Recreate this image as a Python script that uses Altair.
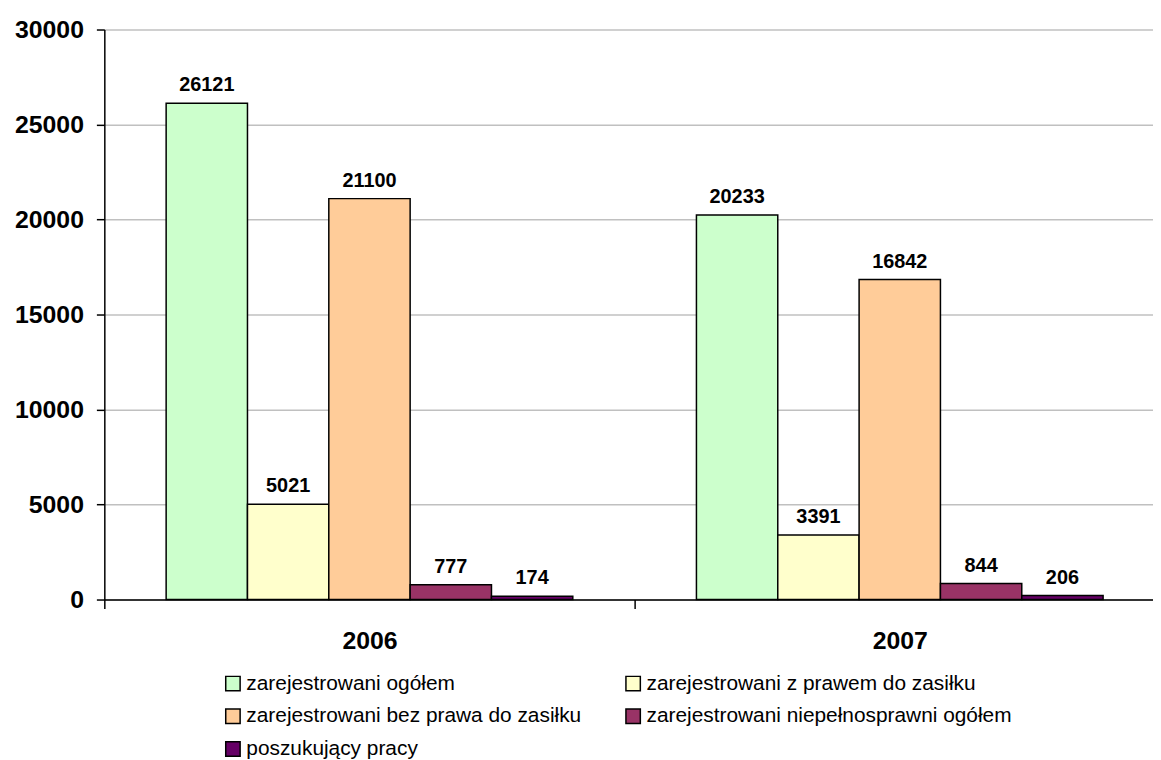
import altair as alt
import pandas as pd

years = ["2006", "2007"]
series = [
    "zarejestrowani ogółem",
    "zarejestrowani z prawem do zasiłku",
    "zarejestrowani bez prawa do zasiłku",
    "zarejestrowani niepełnosprawni ogółem",
    "poszukujący pracy",
]
values_2006 = [26121, 5021, 21100, 777, 174]
values_2007 = [20233, 3391, 16842, 844, 206]
colors = ["#CCFFCC", "#FFFFCC", "#FFCC99", "#993366", "#660066"]
y_ticks = [0, 5000, 10000, 15000, 20000, 25000, 30000]

rows = []
for yr, vals in zip(years, [values_2006, values_2007]):
    for s, v in zip(series, vals):
        rows.append({"year": yr, "series": s, "value": v})
df = pd.DataFrame(rows)

FONT = "Liberation Sans"

x = alt.X(
    "year:N",
    sort=years,
    scale=alt.Scale(range=[0, 1068], paddingInner=0, paddingOuter=0),
    axis=alt.Axis(
        title=None, labelAngle=0, labelFontSize=25, labelFontWeight="bold",
        labelFont=FONT, labelColor="black", domainColor="black", domainWidth=1.5,
        tickColor="black", tickWidth=1.5, tickSize=9, tickBand="extent",
        labelPadding=20, grid=False,
    ),
)
xo = alt.XOffset("series:N", sort=series,
                 scale=alt.Scale(domain=series, paddingInner=0, paddingOuter=0.76))
y = alt.Y(
    "value:Q",
    scale=alt.Scale(domain=[0, 30000], nice=False),
    axis=alt.Axis(
        title=None, values=y_ticks, format="d", labelFontSize=25,
        labelFontWeight="bold", labelFont=FONT, labelColor="black",
        domainColor="black", domainWidth=1.5, tickColor="black", tickWidth=1.5,
        tickSize=8, labelPadding=13, grid=True, gridColor="#C0C0C0", gridWidth=1.5,
    ),
)

bars = alt.Chart(df).mark_bar(stroke="black", strokeWidth=1.5).encode(
    x=x,
    xOffset=xo,
    y=y,
    color=alt.Color(
        "series:N",
        sort=series,
        scale=alt.Scale(domain=series, range=colors),
        legend=alt.Legend(
            orient="none", legendX=119, legendY=648, columns=2,
            direction="horizontal", title=None,
            symbolType="square", symbolSize=210, symbolStrokeColor="black",
            symbolStrokeWidth=1.5, labelFontSize=21, labelFont=FONT,
            labelColor="black", labelLimit=800, columnPadding=41,
            rowPadding=11, labelOffset=3,
        ),
    ),
)

text = alt.Chart(df).mark_text(
    baseline="alphabetic", dy=-12, fontSize=20, fontWeight="bold",
    font=FONT, color="black",
).encode(x=x, xOffset=xo, y=y, text=alt.Text("value:Q", format="d"))

chart = alt.layer(bars, text).properties(
    width=1056,
    height=574,
    autosize=alt.AutoSizeParams(type="none"),
    padding={"left": 97, "top": 19, "right": 0, "bottom": 170},
).configure_view(strokeWidth=0)

chart.save("out.html", embed_options={"renderer": "svg", "actions": False})
